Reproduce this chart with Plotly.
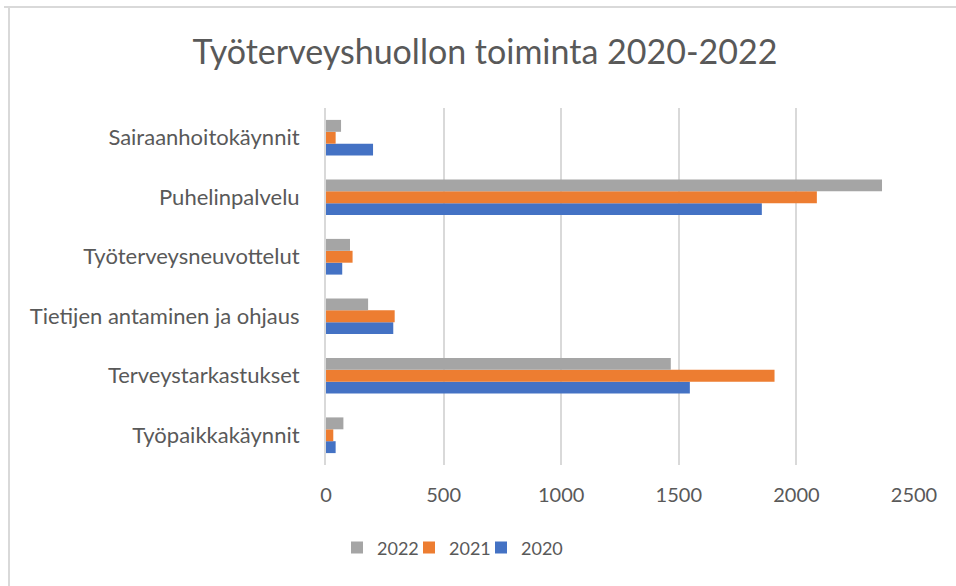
import plotly.graph_objects as go

categories = [
    "Työpaikkakäynnit",
    "Terveystarkastukset",
    "Tietijen antaminen ja ohjaus",
    "Työterveysneuvottelut",
    "Puhelinpalvelu",
    "Sairaanhoitokäynnit",
]
values_2020 = [41, 1547, 286, 69, 1853, 200]
values_2021 = [31, 1907, 292, 113, 2087, 41]
values_2022 = [74, 1466, 179, 102, 2364, 64]

series = [
    ("2020", values_2020, "#4472C4", "legend3"),
    ("2021", values_2021, "#ED7D31", "legend2"),
    ("2022", values_2022, "#A5A5A5", "legend"),
]

text_color = "#595959"
font_family = "Lato, Carlito, Calibri, sans-serif"

fig = go.Figure()
for name, vals, color, leg in series:
    fig.add_trace(
        go.Bar(
            y=categories,
            x=vals,
            name=name,
            orientation="h",
            legend=leg,
            marker=dict(color=color, line=dict(width=0)),
        )
    )


def px_x(p):
    return (p - 326) / 588


legend_style = dict(
    orientation="h",
    xanchor="left",
    y=-0.232,
    yanchor="middle",
    itemwidth=30,
    bgcolor="rgba(0,0,0,0)",
    font=dict(size=18, color=text_color),
)

fig.update_layout(
    width=956,
    height=586,
    margin=dict(l=326, r=42, t=108, b=121),
    paper_bgcolor="white",
    plot_bgcolor="white",
    barmode="group",
    bargap=0.4,
    bargroupgap=0,
    font=dict(family=font_family, color=text_color, size=18),
    title=dict(
        text="Työterveyshuollon toiminta 2020-2022",
        x=485 / 956,
        xref="container",
        xanchor="center",
        y=1 - 52 / 586,
        yref="container",
        yanchor="middle",
        font=dict(size=34, color=text_color),
    ),
    legend=dict(legend_style, x=px_x(337)),
    legend2=dict(legend_style, x=px_x(409)),
    legend3=dict(legend_style, x=px_x(481)),
    showlegend=True,
)

fig.update_xaxes(
    range=[0, 2500],
    dtick=500,
    tick0=0,
    showgrid=True,
    gridcolor="#D9D9D9",
    gridwidth=2,
    zeroline=False,
    showline=False,
    ticks="",
    ticklabelstandoff=16,
    tickfont=dict(size=20),
    fixedrange=True,
)
fig.update_yaxes(
    showgrid=False,
    showline=True,
    linecolor="#D9D9D9",
    linewidth=2,
    ticks="",
    ticklabelstandoff=20,
    tickfont=dict(size=22),
    fixedrange=True,
)

# outer chart border (top and left edges visible in the frame)
fig.add_shape(type="line", xref="paper", yref="paper",
              x0=px_x(4), x1=px_x(960),
              y0=1 + (108 - 7) / 357, y1=1 + (108 - 7) / 357,
              line=dict(color="#D9D9D9", width=2))
fig.add_shape(type="line", xref="paper", yref="paper",
              x0=px_x(9), x1=px_x(9),
              y0=1 + (108 - 7) / 357, y1=-(590 - 465) / 357,
              line=dict(color="#D9D9D9", width=2))

fig.write_html(
    "out.html",
    config={"displayModeBar": False},
    post_script="document.body.style.margin='0';",
)
